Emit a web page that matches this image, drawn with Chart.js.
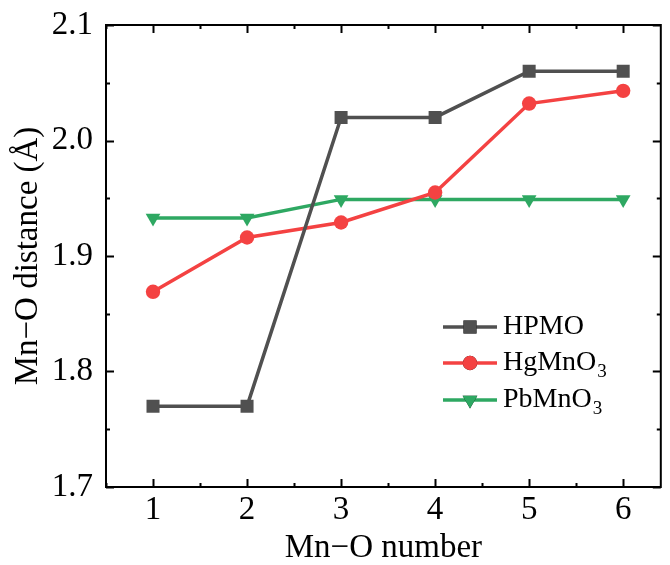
<!DOCTYPE html>
<html>
<head>
<meta charset="utf-8">
<script src="https://cdn.jsdelivr.net/npm/chart.js@4/dist/chart.umd.min.js"></script>
<style>
  html, body { margin: 0; padding: 0; background: #fff; }
  #wrap { width: 670px; height: 565px; }
</style>
</head>
<body>
<div id="wrap"><canvas id="c"></canvas></div>
<script>
// Mn-O bond lengths per site.
const mnoNumber = [1, 2, 3, 4, 5, 6];
const hpmo = [1.770, 1.770, 2.020, 2.020, 2.060, 2.060];
const hgMnO3 = [1.869, 1.916, 1.929, 1.955, 2.032, 2.043];
const pbMnO3 = [1.933, 1.933, 1.949, 1.949, 1.949, 1.949];
const seriesNames = [['HPMO', ''], ['HgMnO', '3'], ['PbMnO', '3']];
const xTicks = [1, 2, 3, 4, 5, 6];
const yTicks = [1.7, 1.8, 1.9, 2.0, 2.1];

const FONT = "'Liberation Serif', 'Times New Roman', serif";
const COL = { hpmo: '#505050', hg: '#f44242', pb: '#2ea862' };

function pts(ys) { return mnoNumber.map(function (x, i) { return { x: x, y: ys[i] }; }); }

// Frame on all four sides plus inward major/minor ticks (Origin style).
const framePlugin = {
  id: 'frame',
  afterDraw(chart) {
    const { ctx, chartArea: a, scales: { x, y } } = chart;
    ctx.save();
    ctx.strokeStyle = '#000';
    ctx.lineWidth = 2;
    ctx.strokeRect(a.left, a.top, a.right - a.left, a.bottom - a.top);
    ctx.beginPath();
    for (let v = 0.5; v <= x.max + 1e-9; v += 0.5) {
      if (v < x.min - 1e-9) continue;
      const px = Math.round(x.getPixelForValue(v)) + 0.5;
      const len = Number.isInteger(v) ? 8 : 4;
      ctx.moveTo(px, a.bottom); ctx.lineTo(px, a.bottom - len);
      ctx.moveTo(px, a.top); ctx.lineTo(px, a.top + len);
    }
    for (let k = 0; k <= 8; k++) {
      const v = 1.7 + k * 0.05;
      const py = Math.round(y.getPixelForValue(v)) + 0.5;
      const len = k % 2 === 0 ? 8 : 4;
      ctx.moveTo(a.left, py); ctx.lineTo(a.left + len, py);
      ctx.moveTo(a.right, py); ctx.lineTo(a.right - len, py);
    }
    ctx.stroke();
    ctx.restore();
  }
};

// Legend with subscripts, drawn inside the plot area.
const legendPlugin = {
  id: 'subLegend',
  afterDraw(chart) {
    const ctx = chart.ctx;
    const x0 = 443, x1 = 497, tx = 503;
    const rows = [327, 363, 400];
    ctx.save();
    chart.data.datasets.forEach(function (ds, i) {
      const yy = rows[i];
      ctx.strokeStyle = ds.borderColor;
      ctx.lineWidth = ds.borderWidth;
      ctx.beginPath(); ctx.moveTo(x0, yy); ctx.lineTo(x1, yy); ctx.stroke();
      Chart.helpers.drawPoint(ctx, {
        pointStyle: ds.pointStyle, radius: ds.pointRadius, rotation: ds.pointRotation || 0, borderWidth: 0
      }, (x0 + x1) / 2, yy);
      ctx.fillStyle = ds.pointBackgroundColor;
      ctx.fill();
      ctx.fillStyle = '#000';
      ctx.textBaseline = 'middle';
      ctx.font = '28px ' + FONT;
      ctx.fillText(seriesNames[i][0], tx, yy);
      if (seriesNames[i][1]) {
        const w = ctx.measureText(seriesNames[i][0]).width;
        ctx.font = '19px ' + FONT;
        ctx.fillText(seriesNames[i][1], tx + w + 1, yy + 9);
      }
    });
    ctx.restore();
  }
};

function ds(label, data, color, style, radius, rot) {
  return {
    label: label, data: pts(data), borderColor: color, backgroundColor: color,
    pointBackgroundColor: color, pointBorderColor: color, pointBorderWidth: 0,
    borderWidth: 3.5, pointStyle: style, pointRadius: radius, pointRotation: rot || 0,
    pointHoverRadius: radius, tension: 0, fill: false
  };
}

new Chart(document.getElementById('c'), {
  type: 'line',
  data: {
    datasets: [
      ds('HPMO', hpmo, COL.hpmo, 'rect', 9.2),
      ds('HgMnO3', hgMnO3, COL.hg, 'circle', 7.2),
      ds('PbMnO3', pbMnO3, COL.pb, 'triangle', 8.5, 180)
    ]
  },
  options: {
    responsive: true, maintainAspectRatio: false, animation: false,
    layout: { padding: { top: 25, right: 3, left: 0, bottom: 0 } },
    plugins: { legend: { display: false }, tooltip: { enabled: false } },
    scales: {
      x: {
        type: 'linear', min: 0.5, max: 6.4,
        afterFit(s) { s.height = 78; s.paddingLeft = 0; s.paddingRight = 0; },
        afterBuildTicks(s) { s.ticks = xTicks.map(function (v) { return { value: v }; }); },
        grid: { display: false, drawTicks: false },
        border: { display: false },
        ticks: { color: '#000', padding: 4, font: { family: FONT, size: 33 }, maxRotation: 0 },
        title: { display: true, text: 'Mn\u2212O number', color: '#000', font: { family: FONT, size: 33, lineHeight: 1 }, padding: { top: 0, bottom: 0 } }
      },
      y: {
        min: 1.7, max: 2.1,
        afterFit(s) { s.width = 106; s.paddingTop = 0; s.paddingBottom = 0; },
        afterBuildTicks(s) { s.ticks = yTicks.map(function (v) { return { value: v }; }); },
        grid: { display: false, drawTicks: false },
        border: { display: false },
        ticks: { color: '#000', padding: 13, font: { family: FONT, size: 33 }, callback: function (v) { return v.toFixed(1); } },
        title: { display: true, text: 'Mn\u2212O distance (\u00c5)', color: '#000', font: { family: FONT, size: 33, lineHeight: 1 }, padding: { top: 12, bottom: 0 } }
      }
    }
  },
  plugins: [framePlugin, legendPlugin]
});
</script>
</body>
</html>
